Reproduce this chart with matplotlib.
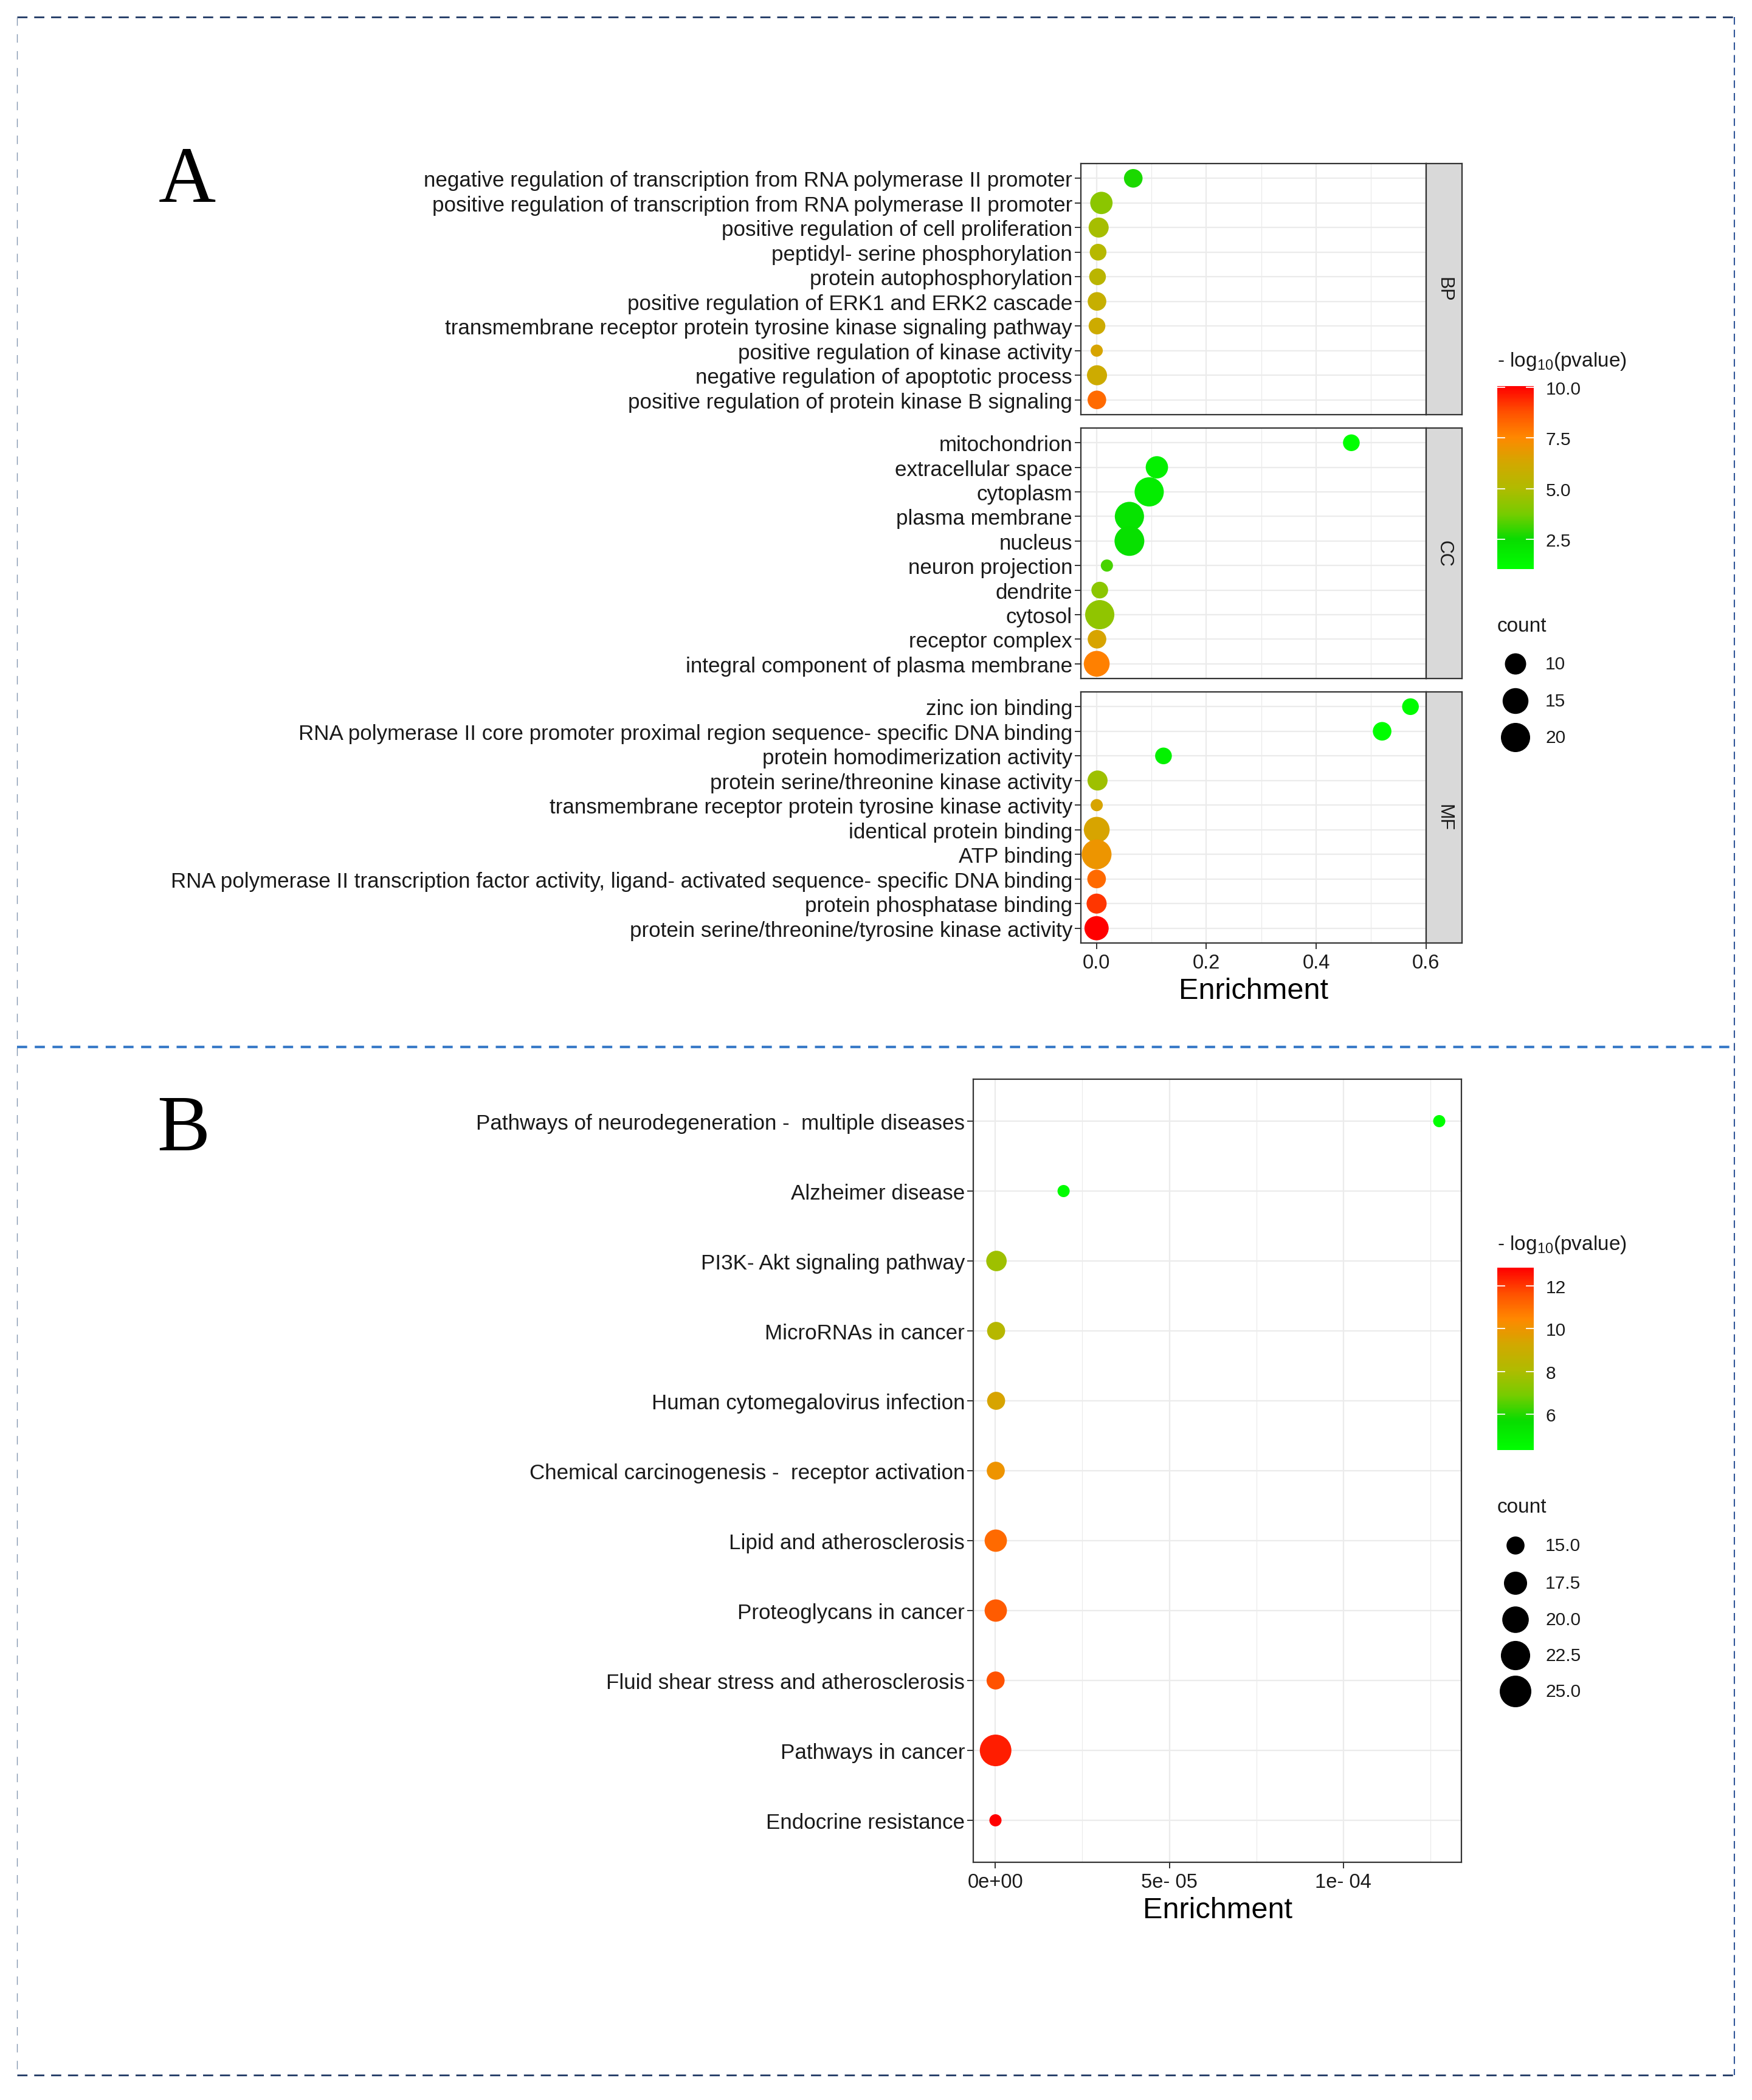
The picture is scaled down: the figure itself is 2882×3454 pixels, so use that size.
import numpy as np
import matplotlib
matplotlib.use("Agg")
import matplotlib.pyplot as plt
from matplotlib.colors import LinearSegmentedColormap, Normalize
from matplotlib.ticker import FixedLocator
from matplotlib.cm import ScalarMappable

plt.rcParams['font.family'] = ['Liberation Sans', 'DejaVu Sans']
plt.rcParams['mathtext.fontset'] = 'custom'
plt.rcParams['mathtext.rm'] = 'Liberation Sans'
plt.rcParams['mathtext.it'] = 'Liberation Sans'

# ---------------- data ----------------
bp_terms = ["negative regulation of transcription from RNA polymerase II promoter",
            "positive regulation of transcription from RNA polymerase II promoter",
            "positive regulation of cell proliferation",
            "peptidyl- serine phosphorylation",
            "protein autophosphorylation",
            "positive regulation of ERK1 and ERK2 cascade",
            "transmembrane receptor protein tyrosine kinase signaling pathway",
            "positive regulation of kinase activity",
            "negative regulation of apoptotic process",
            "positive regulation of protein kinase B signaling"]
bp_enrich = [0.067, 0.009, 0.004, 0.003, 0.002, 0.001, 0.001, 0.0005, 0.001, 0.0008]
bp_count = [8, 11, 9, 7, 7, 8, 7, 6, 9, 8]
bp_logp = [2.7, 4.2, 4.8, 5.2, 5.4, 5.8, 6.1, 6.4, 6.1, 8.2]

cc_terms = ["mitochondrion", "extracellular space", "cytoplasm", "plasma membrane",
            "nucleus", "neuron projection", "dendrite", "cytosol", "receptor complex",
            "integral component of plasma membrane"]
cc_enrich = [0.464, 0.110, 0.096, 0.060, 0.060, 0.019, 0.006, 0.006, 0.001, 0.0005]
cc_count = [7, 11, 20, 20, 21, 6, 7, 20, 8, 15]
cc_logp = [1.03, 1.7, 1.8, 2.2, 2.3, 3.2, 4.2, 4.3, 6.4, 7.7]

mf_terms = ["zinc ion binding",
            "RNA polymerase II core promoter proximal region sequence- specific DNA binding",
            "protein homodimerization activity",
            "protein serine/threonine kinase activity",
            "transmembrane receptor protein tyrosine kinase activity",
            "identical protein binding",
            "ATP binding",
            "RNA polymerase II transcription factor activity, ligand- activated sequence- specific DNA binding",
            "protein phosphatase binding",
            "protein serine/threonine/tyrosine kinase activity"]
mf_enrich = [0.5716, 0.520, 0.122, 0.002, 0.0005, 0.0005, 0.0003, 0.0003, 0.0003, 0.0002]
mf_count = [7, 8, 7, 9, 6, 15, 21, 8, 9, 13]
mf_logp = [1.2, 1.1, 1.6, 4.6, 6.4, 6.4, 7.0, 8.2, 9.2, 10.06]

go_facets = ["BP", "CC", "MF"]
go_xticks = [0.0, 0.2, 0.4, 0.6]
go_xticklabels = ["0.0", "0.2", "0.4", "0.6"]
go_color_ticks = [2.5, 5.0, 7.5, 10.0]
go_color_ticklabels = ["2.5", "5.0", "7.5", "10.0"]
go_size_breaks = [10, 15, 20]
go_size_labels = ["10", "15", "20"]

kegg_terms = ["Pathways of neurodegeneration -  multiple diseases",
              "Alzheimer disease",
              "PI3K- Akt signaling pathway",
              "MicroRNAs in cancer",
              "Human cytomegalovirus infection",
              "Chemical carcinogenesis -  receptor activation",
              "Lipid and atherosclerosis",
              "Proteoglycans in cancer",
              "Fluid shear stress and atherosclerosis",
              "Pathways in cancer",
              "Endocrine resistance"]
kegg_enrich = [1.276e-4, 1.96e-5, 3e-7, 2e-7, 2e-7, 1e-7, 1e-7, 1e-7, 5e-8, 5e-8, 1e-8]
kegg_count = [14, 14, 16, 15, 15, 15, 17, 17, 15, 25, 14]
kegg_logp = [4.33, 4.4, 7.7, 8.3, 9.4, 10.0, 11.1, 11.4, 11.6, 12.4, 12.85]
kegg_xticks = [0.0, 5e-5, 1e-4]
kegg_xticklabels = ["0e+00", "5e- 05", "1e- 04"]
kegg_color_ticks = [6, 8, 10, 12]
kegg_color_ticklabels = ["6", "8", "10", "12"]
kegg_size_breaks = [15.0, 17.5, 20.0, 22.5, 25.0]
kegg_size_labels = ["15.0", "17.5", "20.0", "22.5", "25.0"]

# ---------------- helpers ----------------
W, H = 2882, 3455
DPI = 100
fig = plt.figure(figsize=(W / DPI, H / DPI), dpi=DPI)
fig.patch.set_facecolor('white')


def rect(l, t, r, b):
    return [l / W, 1 - b / H, (r - l) / W, (b - t) / H]


cmap = LinearSegmentedColormap.from_list("green_red", [
    (0.00, '#00FF00'), (0.16, '#08DC00'), (0.30, '#77CC00'), (0.44, '#B0BB00'),
    (0.58, '#D2A800'), (0.72, '#FF8800'), (0.86, '#FF5000'), (1.00, '#FF0000')])

BORDER = '#333333'
GRID = '#EBEBEB'
TXT = '#1A1A1A'
LAB_FS = 25.2
TICK_FS = 23.5


def size_px(c, lo, hi, dmin, dmax):
    c = np.asarray(c, float)
    return dmin + (dmax - dmin) * np.sqrt((c - lo) / (hi - lo))


def s_from_px(d):
    return (np.asarray(d) * 72 / DPI) ** 2


def style_panel(ax, n, xlim, xmajor, xminor, show_x):
    ax.set_xlim(*xlim)
    ax.set_ylim(n - 1 + 0.6, -0.6)
    ax.set_yticks(range(n))
    ax.xaxis.set_major_locator(FixedLocator(xmajor))
    ax.xaxis.set_minor_locator(FixedLocator(xminor))
    ax.set_axisbelow(True)
    ax.grid(which='major', color=GRID, lw=1.6)
    ax.grid(which='minor', axis='x', color=GRID, lw=0.9)
    for sp in ax.spines.values():
        sp.set_color(BORDER)
        sp.set_linewidth(1.6)
    ax.tick_params(axis='y', length=7, width=1.4, color=BORDER, pad=3,
                   labelsize=LAB_FS, labelcolor=TXT)
    ax.tick_params(axis='x', which='major', length=7 if show_x else 0, width=1.4,
                   color=BORDER, pad=5, labelsize=TICK_FS, labelcolor=TXT,
                   labelbottom=show_x)
    ax.tick_params(axis='x', which='minor', length=0)


# ---------------- background frame ----------------
bg = fig.add_axes([0, 0, 1, 1], zorder=-10)
bg.set_xlim(0, W)
bg.set_ylim(H, 0)
bg.axis('off')
bg.plot([28, 2853], [29, 29], color='#1F3864', lw=2.0, ls=(0, (6, 4)))
bg.plot([28, 28], [29, 3414], color='#8497B0', lw=1.0, ls=(0, (10, 10)))
bg.plot([2853, 2853], [29, 3414], color='#2F5597', lw=1.5, ls=(0, (6, 4)))
bg.plot([28, 2853], [3414, 3414], color='#1F3864', lw=2.0, ls=(0, (6, 4)))
bg.plot([28, 2853], [1723, 1723], color='#3A7BC8', lw=3.0, ls=(0, (4, 3)))
bg.text(308, 300, "A", fontsize=94, family=['Liberation Serif', 'DejaVu Serif'],
        ha='center', va='center', color='black')
bg.text(302, 1860, "B", fontsize=94, family=['Liberation Serif', 'DejaVu Serif'],
        ha='center', va='center', color='black')

# ---------------- panel A ----------------
all_enrich = np.concatenate([bp_enrich, cc_enrich, mf_enrich])
emin, emax = all_enrich.min(), all_enrich.max()
span = emax - emin
xlimA = (emin - 0.05 * span, emax + 0.05 * span)
all_counts = np.concatenate([bp_count, cc_count, mf_count])
cA_lo, cA_hi = all_counts.min(), all_counts.max()
all_lp = np.concatenate([bp_logp, cc_logp, mf_logp])
normA = Normalize(all_lp.min(), all_lp.max())

panelsA = [(bp_terms, bp_enrich, bp_count, bp_logp, 270, 683),
           (cc_terms, cc_enrich, cc_count, cc_logp, 705, 1117),
           (mf_terms, mf_enrich, mf_count, mf_logp, 1139, 1552)]
for i, (terms, en, cnt, lp, top, bot) in enumerate(panelsA):
    ax = fig.add_axes(rect(1778, top, 2346, bot))
    n = len(terms)
    d = size_px(cnt, cA_lo, cA_hi, 20, 49)
    ax.scatter(en, np.arange(n), s=s_from_px(d), c=lp, cmap=cmap, norm=normA,
               linewidths=0, zorder=3)
    style_panel(ax, n, xlimA, go_xticks, [0.1, 0.3, 0.5], show_x=(i == 2))
    ax.set_yticklabels(terms)
    if i == 2:
        ax.set_xticklabels(go_xticklabels)
        ax.set_xlabel("Enrichment", fontsize=35, color='black', labelpad=6)
    sax = fig.add_axes(rect(2346, top, 2405, bot))
    sax.set_facecolor('#D9D9D9')
    sax.set_xticks([])
    sax.set_yticks([])
    for sp in sax.spines.values():
        sp.set_color(BORDER)
        sp.set_linewidth(1.6)
    sax.text(0.5, 0.5, go_facets[i], rotation=270, ha='center', va='center',
             fontsize=22, color=TXT, transform=sax.transAxes)


def draw_colorbar(left, top, right, bottom, norm, ticks, ticklabels, title, title_y):
    cax = fig.add_axes(rect(left, top, right, bottom))
    cb = fig.colorbar(ScalarMappable(norm=norm, cmap=cmap), cax=cax)
    cb.outline.set_visible(False)
    cb.set_ticks(ticks)
    cb.set_ticklabels(ticklabels)
    cax.tick_params(length=0, pad=14, labelsize=21.5, labelcolor=TXT)
    for t in ticks:
        cax.plot([0, 0.2], [t, t], color='white', lw=1.3, transform=cax.get_yaxis_transform())
        cax.plot([0.8, 1.0], [t, t], color='white', lw=1.3, transform=cax.get_yaxis_transform())
    bg.text(left, title_y, title, fontsize=24, color=TXT, ha='left', va='center')


def draw_size_legend(x, title_y, ys, breaks, labels, lo, hi, dmin, dmax):
    bg.text(x - 30, title_y, "count", fontsize=24, color=TXT, ha='left', va='center')
    d = size_px(breaks, lo, hi, dmin, dmax)
    bg.scatter([x] * len(ys), ys, s=s_from_px(d), color='black', linewidths=0)
    for yy, lab in zip(ys, labels):
        bg.text(x + 49, yy, lab, fontsize=21.5, color=TXT, ha='left', va='center')


title = r"- log$_{10}$(pvalue)"
draw_colorbar(2463, 636, 2523, 937, normA, go_color_ticks, go_color_ticklabels, title, 594)
draw_size_legend(2493, 1031, [1093, 1154, 1214], go_size_breaks, go_size_labels,
                 cA_lo, cA_hi, 20, 49)

# ---------------- panel B ----------------
ke = np.array(kegg_enrich)
spanB = ke.max() - ke.min()
xlimB = (ke.min() - 0.05 * spanB, ke.max() + 0.05 * spanB)
cB_lo, cB_hi = min(kegg_count), max(kegg_count)
normB = Normalize(min(kegg_logp), max(kegg_logp))
axB = fig.add_axes(rect(1601, 1776, 2404, 3064))
nB = len(kegg_terms)
dB = size_px(kegg_count, cB_lo, cB_hi, 20, 52)
axB.scatter(kegg_enrich, np.arange(nB), s=s_from_px(dB), c=kegg_logp, cmap=cmap,
            norm=normB, linewidths=0, zorder=3)
style_panel(axB, nB, xlimB, kegg_xticks, [2.5e-5, 7.5e-5, 1.25e-4], show_x=True)
axB.set_yticklabels(kegg_terms)
axB.set_xticklabels(kegg_xticklabels)
axB.set_xlabel("Enrichment", fontsize=35, color='black', labelpad=6)

draw_colorbar(2463, 2086, 2523, 2386, normB, kegg_color_ticks, kegg_color_ticklabels,
              title, 2048)
draw_size_legend(2493, 2480, [2543, 2605, 2665, 2724, 2783], kegg_size_breaks,
                 kegg_size_labels, cB_lo, cB_hi, 20, 52)

fig.savefig("out.png", dpi=DPI, facecolor='white')
